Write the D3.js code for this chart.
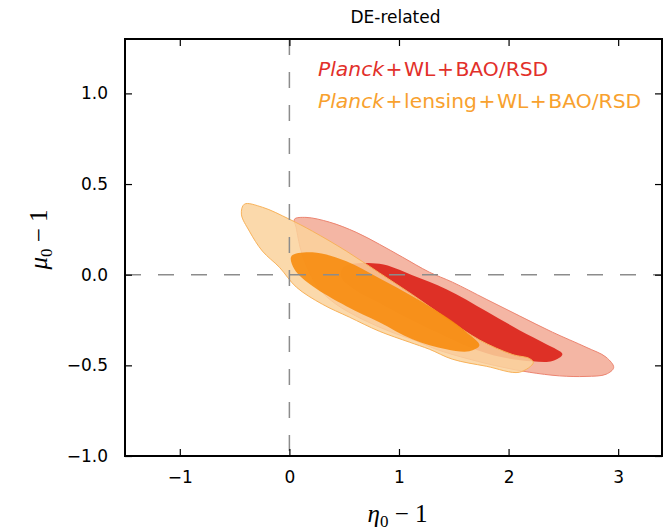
<!DOCTYPE html>
<html>
<head>
<meta charset="utf-8">
<script src="https://cdn.jsdelivr.net/npm/d3@7"></script>
<style>
  body { margin: 0; background: #fff; }
  svg { display: block; }
</style>
</head>
<body>
<svg id="chart" width="666" height="532"></svg>
<script>
// ticks
const xTicks = [-1, 0, 1, 2, 3];
const yTicks = [-1.0, -0.5, 0.0, 0.5, 1.0];

// contour outlines, [eta0-1, mu0-1]
const redOuter = [
  [0.046, 0.306], [0.152, 0.316], [0.365, 0.290], [0.609, 0.234], [0.821, 0.168],
  [1.031, 0.097], [1.277, 0.014], [1.487, -0.041], [1.795, -0.135], [2.099, -0.227],
  [2.400, -0.317], [2.707, -0.400], [2.890, -0.455], [2.959, -0.512], [2.890, -0.549],
  [2.707, -0.561], [2.464, -0.558], [2.190, -0.538], [1.943, -0.510], [1.642, -0.466],
  [1.338, -0.411], [1.156, -0.365], [0.912, -0.312], [0.666, -0.246], [0.426, -0.163],
  [0.274, -0.080], [0.182, 0.014], [0.107, 0.131], [0.061, 0.262]
];
const redInner = [
  [0.500, 0.045], [0.821, 0.060], [1.122, -0.003], [1.432, -0.080], [1.797, -0.201],
  [2.099, -0.306], [2.345, -0.383], [2.491, -0.438], [2.400, -0.476], [2.217, -0.478],
  [1.943, -0.456], [1.642, -0.400], [1.369, -0.325], [1.095, -0.245], [0.821, -0.156],
  [0.600, -0.085], [0.470, -0.010]
];
const orangeOuter = [
  [-0.411, 0.389], [-0.246, 0.372], [0.000, 0.306], [0.210, 0.240], [0.520, 0.130],
  [0.821, 0.010], [1.122, -0.110], [1.432, -0.240], [1.734, -0.360], [2.035, -0.440],
  [2.190, -0.462], [2.226, -0.485], [2.099, -0.538], [1.797, -0.505], [1.487, -0.466],
  [1.277, -0.411], [1.095, -0.372], [0.821, -0.312], [0.547, -0.234], [0.301, -0.163],
  [0.064, -0.069], [-0.091, 0.041], [-0.246, 0.130], [-0.365, 0.240], [-0.438, 0.334]
];
const orangeInner = [
  [0.018, 0.102], [0.210, 0.124], [0.520, 0.074], [0.821, -0.019], [1.122, -0.119],
  [1.432, -0.234], [1.615, -0.317], [1.734, -0.389], [1.642, -0.422], [1.432, -0.411],
  [1.122, -0.356], [0.821, -0.262], [0.520, -0.174], [0.210, -0.063], [0.046, 0.030]
];

const legendLabels = [
  { parts: ["WL", "BAO/RSD"], color: "#e2302a" },
  { parts: ["lensing", "WL", "BAO/RSD"], color: "#f8a12e" }
];

const margin = { left: 125, right: 4, top: 39, bottom: 76 };
const width = 666, height = 532;

const svg = d3.select("#chart");

const x = d3.scaleLinear().domain([-1.5, 3.4]).range([margin.left, width - margin.right]);
const y = d3.scaleLinear().domain([-1.0, 1.3]).range([height - margin.bottom, margin.top]);

svg.append("defs").append("clipPath").attr("id", "plotClip")
  .append("rect")
  .attr("x", x.range()[0]).attr("y", y.range()[1])
  .attr("width", x.range()[1] - x.range()[0])
  .attr("height", y.range()[0] - y.range()[1]);

const line = d3.line()
  .x(d => x(d[0]))
  .y(d => y(d[1]))
  .curve(d3.curveCatmullRomClosed.alpha(0.5));

const plot = svg.append("g").attr("clip-path", "url(#plotClip)");

// red (drawn first), then orange on top
plot.append("path").attr("d", line(redOuter))
  .attr("fill", "#f4b6a4").attr("stroke", "#ec8470").attr("stroke-width", 1);
plot.append("path").attr("d", line(redInner))
  .attr("fill", "#de3026").attr("stroke", "none");
plot.append("path").attr("d", line(orangeOuter))
  .attr("fill", "#fad29c").attr("fill-opacity", 0.85)
  .attr("stroke", "#f8b25a").attr("stroke-width", 1);
plot.append("path").attr("d", line(orangeInner))
  .attr("fill", "#f78a0a").attr("fill-opacity", 0.88).attr("stroke", "none");

// dashed zero lines
plot.append("line")
  .attr("x1", x(-1.5)).attr("x2", x(3.4)).attr("y1", y(0)).attr("y2", y(0))
  .attr("stroke", "#8c8c8c").attr("stroke-width", 1.5).attr("stroke-dasharray", "16,17");
plot.append("line")
  .attr("x1", x(0)).attr("x2", x(0)).attr("y1", y(1.3)).attr("y2", y(-1.0))
  .attr("stroke", "#8c8c8c").attr("stroke-width", 1.5).attr("stroke-dasharray", "16,17");

// axes
const sansFont = "'DejaVu Sans', sans-serif";
const fmtY = d => d3.format(".1f")(d).replace("-", "\u2212");
const fmtX = d => d3.format("d")(d).replace("-", "\u2212");

const gx = svg.append("g").attr("transform", `translate(0,${y.range()[0]})`)
  .call(d3.axisBottom(x).tickValues(xTicks).tickSize(-7).tickPadding(15).tickFormat(fmtX));
const gxTop = svg.append("g").attr("transform", `translate(0,${y.range()[1]})`)
  .call(d3.axisTop(x).tickValues(xTicks).tickSize(-7).tickFormat(""));
const gy = svg.append("g").attr("transform", `translate(${x.range()[0]},0)`)
  .call(d3.axisLeft(y).tickValues(yTicks).tickSize(-7).tickPadding(17).tickFormat(fmtY));
const gyRight = svg.append("g").attr("transform", `translate(${x.range()[1]},0)`)
  .call(d3.axisRight(y).tickValues(yTicks).tickSize(-7).tickFormat(""));

[gx, gxTop, gy, gyRight].forEach(g => {
  g.select(".domain").remove();
  g.selectAll(".tick line").attr("stroke", "#000").attr("stroke-width", 1.2);
  g.selectAll(".tick text").attr("font-family", sansFont).attr("font-size", 17).attr("fill", "#000");
});

svg.append("rect")
  .attr("x", x.range()[0]).attr("y", y.range()[1])
  .attr("width", x.range()[1] - x.range()[0])
  .attr("height", y.range()[0] - y.range()[1])
  .attr("fill", "none").attr("stroke", "#000").attr("stroke-width", 2);

// title
svg.append("text")
  .attr("x", (x.range()[0] + x.range()[1]) / 2 + 2).attr("y", 23)
  .attr("text-anchor", "middle")
  .attr("font-family", sansFont).attr("font-size", 17)
  .text("DE-related");

// legend
const leg = svg.append("g");
legendLabels.forEach((d, i) => {
  const t = leg.append("text")
    .attr("x", 318).attr("y", 76 + i * 32)
    .attr("font-family", sansFont).attr("font-size", 20.3)
    .attr("fill", d.color);
  t.append("tspan").attr("font-style", "italic").text("Planck");
  d.parts.forEach(p => {
    t.append("tspan").attr("dx", 1.5).text("+");
    t.append("tspan").attr("dx", 1.5).text(p);
  });
});

// axis labels
const mathFont = "'Liberation Serif', 'DejaVu Serif', serif";
const xl = svg.append("text")
  .attr("x", (x.range()[0] + x.range()[1]) / 2 + 4).attr("y", 522)
  .attr("text-anchor", "middle")
  .attr("font-family", mathFont).attr("font-size", 25);
xl.append("tspan").attr("font-style", "italic").text("\u03b7");
xl.append("tspan").attr("font-size", 17).attr("dy", 5).text("0");
xl.append("tspan").attr("dy", -5).text(" \u2212 1");

const yl = svg.append("text")
  .attr("transform", `translate(47,${(y.range()[0] + y.range()[1]) / 2 - 8}) rotate(-90)`)
  .attr("text-anchor", "middle")
  .attr("font-family", mathFont).attr("font-size", 25);
yl.append("tspan").attr("font-style", "italic").text("\u03bc");
yl.append("tspan").attr("font-size", 17).attr("dy", 5).text("0");
yl.append("tspan").attr("dy", -5).text(" \u2212 1");
</script>
</body>
</html>
